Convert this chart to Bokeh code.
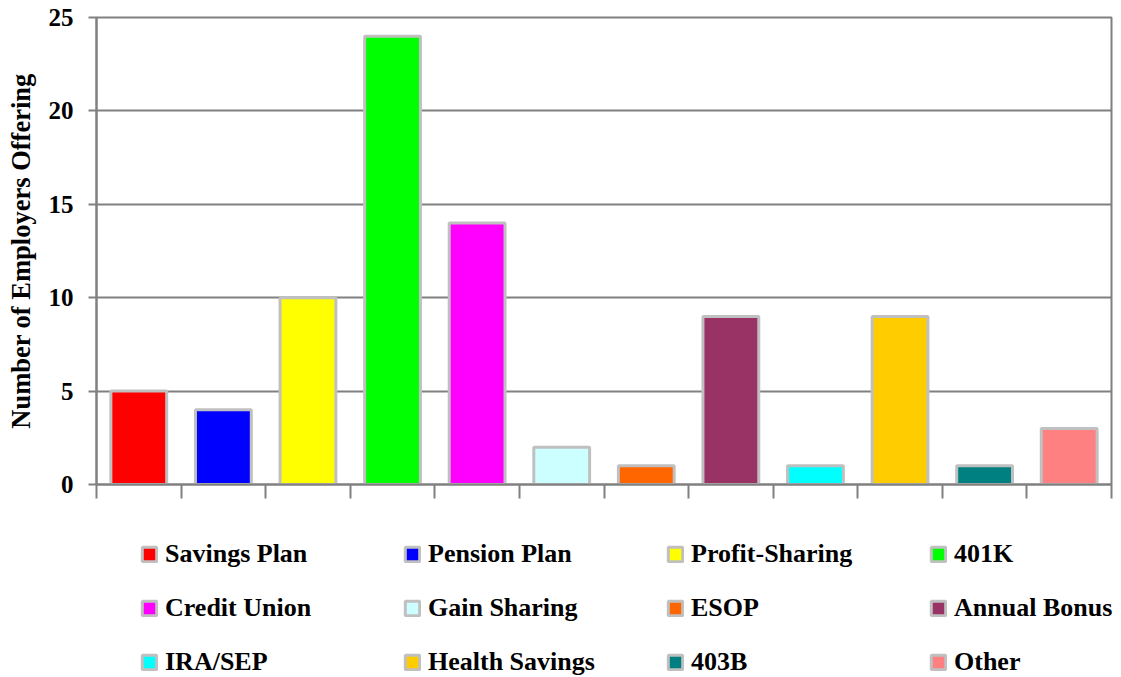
from bokeh.plotting import figure
from bokeh.layouts import column
from bokeh.models import ColumnDataSource, Range1d, FixedTicker, Legend, LegendItem
from bokeh.embed import file_html
from bokeh.resources import INLINE

categories = ["Savings Plan", "Pension Plan", "Profit-Sharing", "401K",
              "Credit Union", "Gain Sharing", "ESOP", "Annual Bonus",
              "IRA/SEP", "Health Savings", "403B", "Other"]
values = [5, 4, 10, 24, 14, 2, 1, 9, 1, 9, 1, 3]
colors = ["#FF0000", "#0000FF", "#FFFF00", "#00FF00", "#FF00FF", "#CCFFFF",
          "#FF6600", "#993366", "#00FFFF", "#FFCC00", "#008080", "#FF8080"]
y_ticks = [0, 5, 10, 15, 20, 25]

FONT = "Liberation Serif"
GRAY = "#808080"
OUTLINE = "#C0C0C0"

p = figure(width=1121, height=500, output_backend="svg", toolbar_location=None,
           x_range=Range1d(0, len(categories)), y_range=Range1d(0, 25),
           min_border_left=96, min_border_top=17, min_border_right=10,
           min_border_bottom=16, frame_align=False)
p.background_fill_color = "white"
p.border_fill_color = "white"
p.outline_line_color = GRAY
p.outline_line_width = 2

for i, (v, c) in enumerate(zip(values, colors)):
    src = ColumnDataSource(dict(x=[i + 0.5], top=[v]))
    p.vbar(x="x", top="top", width=0.66, source=src, fill_color=c,
           line_color=OUTLINE, line_width=3)

p.xgrid.visible = False
p.ygrid.grid_line_color = GRAY
p.ygrid.grid_line_width = 2
p.ygrid.ticker = FixedTicker(ticks=y_ticks)

ya = p.yaxis[0]
ya.ticker = FixedTicker(ticks=y_ticks)
ya.axis_label = "Number of Employers Offering"
ya.axis_label_text_font = FONT
ya.axis_label_text_font_style = "bold"
ya.axis_label_text_font_size = "26.5px"
ya.axis_label_text_color = "black"
ya.axis_label_standoff = 10
ya.major_label_text_font = FONT
ya.major_label_text_font_style = "bold"
ya.major_label_text_font_size = "25px"
ya.major_label_text_color = "black"
ya.major_label_standoff = 15
ya.axis_line_color = GRAY
ya.axis_line_width = 2
ya.major_tick_line_color = GRAY
ya.major_tick_line_width = 2
ya.major_tick_in = 0
ya.major_tick_out = 8
ya.minor_tick_line_color = None

xa = p.xaxis[0]
xa.ticker = FixedTicker(ticks=list(range(len(categories) + 1)))
xa.major_label_text_color = None
xa.major_label_text_font_size = "1px"
xa.major_label_standoff = 0
xa.axis_line_color = GRAY
xa.axis_line_width = 2
xa.major_tick_line_color = GRAY
xa.major_tick_line_width = 2
xa.major_tick_in = 0
xa.major_tick_out = 14
xa.minor_tick_line_color = None

# legend panel below the chart; its proxy bars are hidden, only their
# legend swatches are drawn
lg = figure(width=1121, height=177, output_backend="svg", toolbar_location=None,
            x_range=Range1d(0, len(categories)), y_range=Range1d(0, 25),
            min_border=0, x_axis_location=None, y_axis_location=None,
            frame_align=False)
lg.outline_line_color = None
lg.grid.visible = False
lg.background_fill_color = "white"
lg.border_fill_color = "white"

items = []
for i, (cat, v, c) in enumerate(zip(categories, values, colors)):
    src = ColumnDataSource(dict(x=[i + 0.5], top=[v]))
    r = lg.vbar(x="x", top="top", width=0.66, source=src, fill_color=c,
                line_color=OUTLINE, line_width=3, visible=False)
    items.append(LegendItem(label=cat, renderers=[r]))

legend = Legend(items=items, orientation="horizontal", ncols=4,
                location=(140, 0), margin=0, padding=0, spacing=24,
                glyph_width=18, glyph_height=18, label_standoff=7,
                label_width=214, label_height=30,
                label_text_font=FONT, label_text_font_style="bold",
                label_text_font_size="26px", label_text_color="black",
                border_line_color=None, background_fill_alpha=0,
                click_policy="none")
lg.add_layout(legend, "center")

layout = column(p, lg, spacing=0)
open("out.html", "w").write(file_html(layout, INLINE))
